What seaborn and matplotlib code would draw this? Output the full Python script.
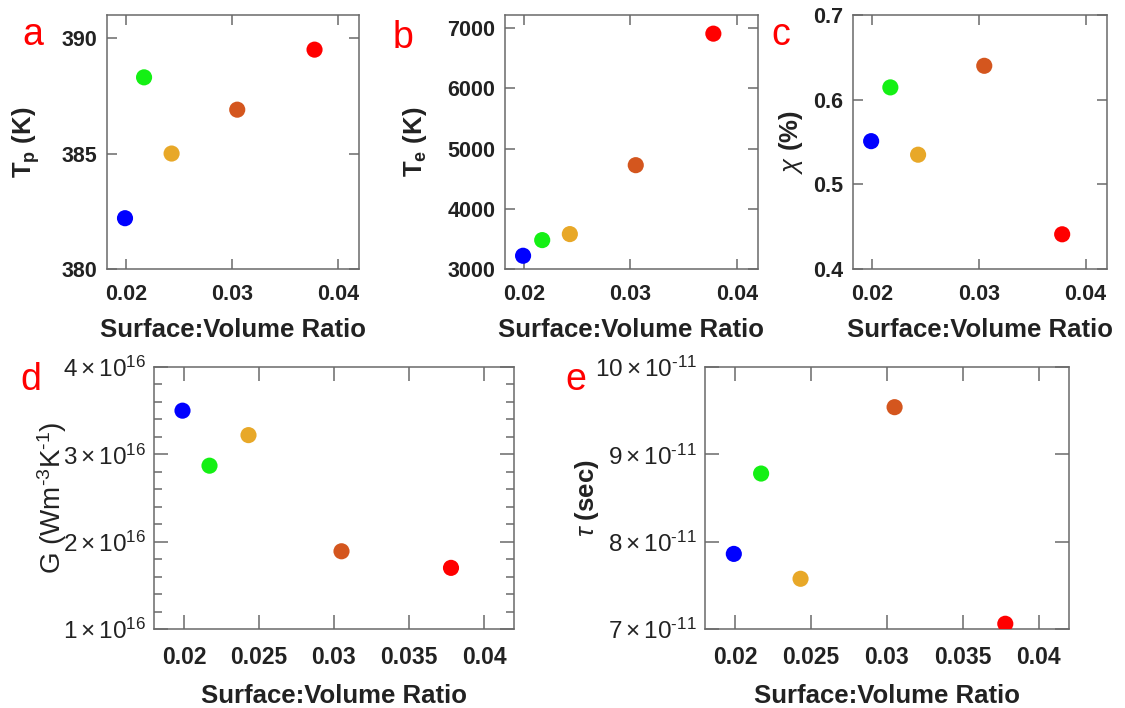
import matplotlib
matplotlib.use("Agg")
import matplotlib.pyplot as plt
from matplotlib.ticker import MultipleLocator, NullLocator
import seaborn as sns
import pandas as pd

# Nanoparticle samples, ordered by surface-to-volume ratio
samples = ["S1", "S2", "S3", "S4", "S5"]
ratio = [0.0199, 0.0217, 0.0243, 0.0305, 0.0378]
point_colors = ["#0000ff", "#14f014", "#e8a828", "#d4561e", "#ff0000"]

# Measured / fitted quantities
t_peak = [382.2, 388.3, 385.0, 386.9, 389.5]          # K
t_elec = [3220, 3480, 3580, 4725, 6910]               # K
chi = [0.551, 0.6145, 0.535, 0.640, 0.441]            # %
coupling = [3.50e16, 2.87e16, 3.22e16, 1.89e16, 1.70e16]   # W m^-3 K^-1
tau = [7.86e-11, 8.78e-11, 7.575e-11, 9.54e-11, 7.06e-11]  # s

# Tick values
ratio_ticks_top = [0.02, 0.03, 0.04]
ratio_ticks_bottom = [0.02, 0.025, 0.03, 0.035, 0.04]
tp_ticks = [380, 385, 390]
te_ticks = [3000, 4000, 5000, 6000, 7000]
chi_ticks = [0.4, 0.5, 0.6, 0.7]
g_ticks = [1e16, 2e16, 3e16, 4e16]
tau_ticks = [7e-11, 8e-11, 9e-11, 10e-11]

sns.set_theme(style="ticks")
plt.rcParams["font.family"] = ["Liberation Sans", "DejaVu Sans"]
plt.rcParams["mathtext.fontset"] = "custom"
plt.rcParams["mathtext.rm"] = "Liberation Sans"
plt.rcParams["mathtext.it"] = "Liberation Sans:italic"
plt.rcParams["mathtext.bf"] = "Liberation Sans:bold"

W, H = 1125, 708
fig = plt.figure(figsize=(W / 100, H / 100), dpi=100)
fig.patch.set_facecolor("white")

SPINE = "#6a6a6a"
TXT = "#222222"


def add_axes_px(left, top, right, bottom):
    return fig.add_axes([left / W, 1 - bottom / H, (right - left) / W, (bottom - top) / H])


def draw(ax, y):
    df = pd.DataFrame({"ratio": ratio, "value": y, "sample": samples})
    sns.scatterplot(data=df, x="ratio", y="value", hue="sample",
                    palette=dict(zip(samples, point_colors)), s=135,
                    linewidth=0, legend=False, ax=ax, zorder=3)
    for sp in ax.spines.values():
        sp.set_color(SPINE)
        sp.set_linewidth(1.1)
    ax.set_facecolor("white")


def sci_label(v, exp):
    m = round(v / 10 ** exp)
    if exp < 0:
        return r"$%d\times10^{\text{-}%d}$" % (m, -exp)
    return r"$%d\times10^{%d}$" % (m, exp)


xlabel = "Surface:Volume Ratio"

# ---- top row ----
top_specs = [
    (107, 359, t_peak, (380, 391), tp_ticks, [str(t) for t in tp_ticks],
     r"T$_\mathbf{p}$ (K)", "bold", 14),
    (505, 758, t_elec, (3000, 7220), te_ticks, [str(t) for t in te_ticks],
     r"T$_\mathbf{e}$ (K)", "bold", 13),
    (853, 1107, chi, (0.4, 0.7), chi_ticks, ["%.1f" % t for t in chi_ticks],
     r"$\chi$ $\mathbf{(\%)}$", "normal", 6),
]
for left, right, vals, ylim, yt, ytl, ylab, wt, lp in top_specs:
    ax = add_axes_px(left, 15, right, 269)
    draw(ax, vals)
    ax.set_xlim(0.0182, 0.042)
    ax.set_ylim(*ylim)
    ax.set_xticks(ratio_ticks_top, ["%.2f" % t for t in ratio_ticks_top])
    ax.set_yticks(yt, ytl)
    ax.tick_params(direction="in", top=True, right=True, length=7, width=1.1,
                   color=SPINE, labelsize=15.5, labelcolor=TXT)
    ax.tick_params(axis="x", pad=11)
    ax.tick_params(axis="y", pad=7)
    for lab in ax.get_xticklabels() + ax.get_yticklabels():
        lab.set_fontweight("bold")
    ax.set_xlabel(xlabel, fontsize=18.5, fontweight="bold", color=TXT, labelpad=9)
    ax.set_ylabel(ylab, fontsize=18.5, fontweight=wt, color=TXT, labelpad=lp)

# ---- bottom row ----
bottom_specs = [
    (154, 514, coupling, (1e16, 4e16), g_ticks, [sci_label(t, 16) for t in g_ticks],
     r"G (Wm$^{\text{-}3}$K$^{\text{-}1}$)", 20, True),
    (705, 1069, tau, (7e-11, 10e-11), tau_ticks, [sci_label(t, -11) for t in tau_ticks],
     r"$\tau$ $\mathbf{(sec)}$", 18.5, False),
]
for left, right, vals, ylim, yt, ytl, ylab, ysize, minor in bottom_specs:
    ax = add_axes_px(left, 367, right, 629)
    draw(ax, vals)
    ax.set_xlim(0.018, 0.042)
    ax.set_ylim(*ylim)
    ax.set_xticks(ratio_ticks_bottom, ["%g" % t for t in ratio_ticks_bottom])
    ax.set_yticks(yt, ytl)
    if minor:
        ax.yaxis.set_minor_locator(MultipleLocator(0.2e16))
    else:
        ax.yaxis.set_minor_locator(NullLocator())
    ax.xaxis.set_minor_locator(NullLocator())
    ax.tick_params(which="major", direction="in", top=True, right=True, length=10,
                   width=1.1, color=SPINE, labelcolor=TXT)
    ax.tick_params(which="minor", direction="in", top=True, right=True, length=6,
                   width=1.1, color=SPINE)
    ax.tick_params(axis="x", labelsize=16.5, pad=12)
    ax.tick_params(axis="y", labelsize=17.5, pad=6)
    for lab in ax.get_xticklabels():
        lab.set_fontweight("bold")
    ax.set_xlabel(xlabel, fontsize=18.5, fontweight="bold", color=TXT, labelpad=11)
    ax.set_ylabel(ylab, fontsize=ysize, fontweight="normal", color=TXT, labelpad=-5)

# ---- panel letters ----
letters = [("a", 22, 45), ("b", 393, 48), ("c", 771, 45), ("d", 20, 390), ("e", 565, 390)]
for s, x, y in letters:
    fig.text(x / W, 1 - y / H, s, color="#ff0000", fontsize=27, ha="left", va="baseline")

fig.savefig("out.png", dpi=100, facecolor="white")
